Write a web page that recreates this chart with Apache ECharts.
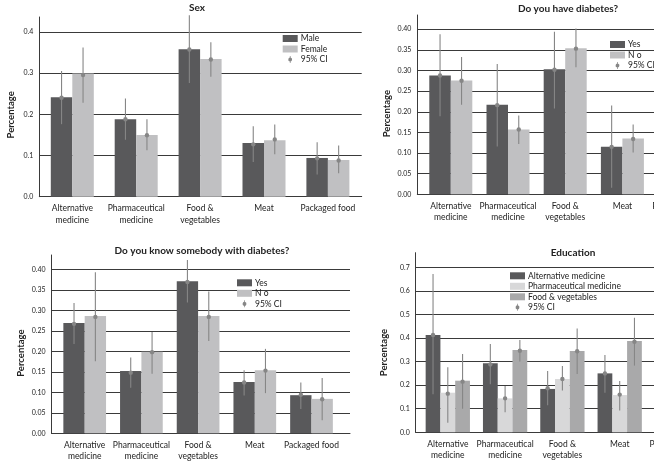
<!DOCTYPE html>
<html><head><meta charset="utf-8">
<script src="https://cdn.jsdelivr.net/npm/echarts@6/dist/echarts.min.js"></script>
<style>html,body{margin:0;padding:0;overflow:hidden;width:654px;height:463px;background:#fff}
#c{position:absolute;left:0;top:0;width:760px;height:463px}</style>
</head><body><div id="c"></div>
<script>
// ---------- data ----------
const categories = ['Alternative\nmedicine', 'Pharmaceutical\nmedicine', 'Food &\nvegetables', 'Meat', 'Packaged food'];

// Panel 1: Sex
const sexMale      = [0.241, 0.188, 0.358, 0.130, 0.094];
const sexFemale    = [0.299, 0.150, 0.334, 0.137, 0.089];
const sexMalePt    = [0.240, 0.188, 0.357, 0.127, 0.093];
const sexMaleLo    = [0.176, 0.138, 0.276, 0.084, 0.054];
const sexMaleHi    = [0.305, 0.238, 0.440, 0.171, 0.132];
const sexFemalePt  = [0.295, 0.149, 0.333, 0.139, 0.088];
const sexFemaleLo  = [0.228, 0.113, 0.291, 0.103, 0.057];
const sexFemaleHi  = [0.362, 0.188, 0.375, 0.175, 0.124];

// Panel 2: Do you have diabetes? (5th category outside the picture)
const diabYes     = [0.288, 0.217, 0.303, 0.115, null];
const diabNo      = [0.276, 0.157, 0.354, 0.135, null];
const diabYesPt   = [0.288, 0.216, 0.302, 0.115, null];
const diabYesLo   = [0.189, 0.116, 0.208, 0.016, null];
const diabYesHi   = [0.388, 0.316, 0.394, 0.215, null];
const diabNoPt    = [0.275, 0.157, 0.353, 0.134, null];
const diabNoLo    = [0.217, 0.122, 0.308, 0.101, null];
const diabNoHi    = [0.333, 0.191, 0.402, 0.169, null];

// Panel 3: Do you know somebody with diabetes?
const knowYes     = [0.269, 0.152, 0.371, 0.125, 0.093];
const knowNo      = [0.286, 0.199, 0.286, 0.154, 0.084];
const knowYesPt   = [0.267, 0.148, 0.369, 0.124, 0.094];
const knowYesLo   = [0.218, 0.111, 0.319, 0.092, 0.059];
const knowYesHi   = [0.318, 0.185, 0.423, 0.154, 0.124];
const knowNoPt    = [0.284, 0.198, 0.284, 0.153, 0.083];
const knowNoLo    = [0.176, 0.145, 0.225, 0.098, 0.032];
const knowNoHi    = [0.393, 0.247, 0.346, 0.206, 0.135];

// Panel 4: Education (5th category outside the picture)
const eduAlt      = [0.413, 0.293, 0.184, 0.250, null];
const eduPharm    = [0.168, 0.144, 0.226, 0.158, null];
const eduFood     = [0.219, 0.349, 0.345, 0.387, null];
const eduAltPt    = [0.413, 0.288, 0.187, 0.250, null];
const eduAltLo    = [0.161, 0.204, 0.115, 0.168, null];
const eduAltHi    = [0.672, 0.375, 0.260, 0.328, null];
const eduPharmPt  = [0.164, 0.144, 0.226, 0.160, null];
const eduPharmLo  = [0.041, 0.085, 0.177, 0.092, null];
const eduPharmHi  = [0.276, 0.196, 0.281, 0.218, null];
const eduFoodPt   = [0.215, 0.346, 0.344, 0.384, null];
const eduFoodLo   = [0.100, 0.300, 0.247, 0.283, null];
const eduFoodHi   = [0.332, 0.392, 0.440, 0.486, null];

// ---------- style ----------
const FONT = 'Lato, "DejaVu Sans", sans-serif';
const DARK = '#59595b', LIGHT = '#c0c0c2', LIGHTEST = '#d8d8d9', MID = '#a9a9aa';
const CI = '#868686', GRID = '#3a3a3a', TXT = '#222';
const CI_ICON = 'path://M2.1,0 L2.9,0 L2.9,1.6 A2.5,2.5 0 0 1 2.9,6.4 L2.9,8 L2.1,8 L2.1,6.4 A2.5,2.5 0 0 1 2.1,1.6 Z';

function makeCI(n, gap) {
  return function (params, api) {
    const cat = api.value(0), idx = api.value(1);
    const band = api.size([1, 0], [cat, 0])[0];
    const bw = band * (1 - gap) / n;
    const off = (idx - (n - 1) / 2) * bw;
    const p = api.coord([cat, api.value(2)]);
    const lo = api.coord([cat, api.value(3)]);
    const hi = api.coord([cat, api.value(4)]);
    const x = p[0] + off;
    return { type: 'group', children: [
      { type: 'line', shape: { x1: x, y1: lo[1], x2: x, y2: hi[1] }, style: { stroke: CI, lineWidth: 1.1 } },
      { type: 'circle', shape: { cx: x, cy: p[1], r: 2.2 }, style: { fill: CI } }
    ]};
  };
}

const option = { animation: false, textStyle: { fontFamily: FONT }, title: [], legend: [], grid: [], xAxis: [], yAxis: [], series: [] };

function addPanel(p) {
  const g = option.grid.length, xa = option.xAxis.length, ya = option.yAxis.length;
  option.grid.push({ left: p.axisX, top: p.top, width: p.gridRight - p.axisX, height: p.base - p.top });
  option.grid.push({ left: p.bandStart, top: p.top, width: p.bandW * 5, height: p.base - p.top });
  option.xAxis.push({ gridIndex: g, type: 'value', min: 0, max: 1,
    axisLine: { show: true, onZero: false, lineStyle: { color: GRID, width: 1 } },
    axisTick: { show: false }, axisLabel: { show: false }, splitLine: { show: false } });
  option.xAxis.push({ gridIndex: g + 1, type: 'category', data: categories,
    axisLine: { show: false }, axisTick: { show: false },
    axisLabel: { interval: 0, margin: 6, fontSize: 8.5, lineHeight: 11.5, color: TXT, fontFamily: FONT } });
  option.yAxis.push({ gridIndex: g, type: 'value', min: 0, max: p.max, interval: p.interval,
    name: 'Percentage', nameLocation: 'middle', nameGap: p.nameGap,
    nameTextStyle: { fontSize: 9.5, fontWeight: 'bold', color: TXT, fontFamily: FONT, padding: [0, p.nameShift, 0, 0] },
    axisLine: { show: true, lineStyle: { color: GRID, width: 1 } }, axisTick: { show: false },
    axisLabel: { formatter: v => v.toFixed(p.dec), showMaxLabel: false, margin: 6, fontSize: 7, color: TXT, fontFamily: FONT },
    splitLine: { show: true, showMaxLine: false, lineStyle: { color: GRID, width: 1 } } });
  option.yAxis.push({ gridIndex: g + 1, type: 'value', min: 0, max: p.max, show: false });

  const n = p.series.length;
  const ciData = [];
  p.series.forEach((s, i) => {
    option.series.push({ type: 'bar', name: s.name, xAxisIndex: xa + 1, yAxisIndex: ya + 1, data: s.values,
      barGap: '0%', barCategoryGap: (p.catGap * 100) + '%', itemStyle: { color: s.color }, silent: true });
    s.pt.forEach((v, c) => { if (v != null) ciData.push([c, i, v, s.lo[c], s.hi[c]]); });
  });
  option.series.push({ type: 'custom', name: '95% CI', xAxisIndex: xa + 1, yAxisIndex: ya + 1, data: ciData,
    encode: { x: 0, y: 2 }, renderItem: makeCI(n, p.catGap), itemStyle: { color: CI }, silent: true, z: 5 });

  option.title.push({ text: p.title, left: p.titleX, top: p.titleY, textAlign: 'center', padding: 0,
    textStyle: { fontSize: 10, fontWeight: 'bold', color: TXT, fontFamily: FONT } });
  option.legend.push({ left: p.legLeft, top: p.legTop, orient: 'vertical', padding: 0, itemWidth: 15, itemHeight: 7,
    itemGap: 1.5, selectedMode: false,
    textStyle: { fontSize: 8.5, lineHeight: 9, color: TXT, fontFamily: FONT, padding: [0, 0, 0, -2] },
    data: p.series.map(s => ({ name: s.name, icon: 'rect' })).concat([{ name: '95% CI', icon: CI_ICON }]) });
}

addPanel({ title: 'Sex', titleX: 197, titleY: 3,
  axisX: 39.3, gridRight: 361.7, bandStart: 40.35, bandW: 63.9, top: 17, base: 196.7, max: 0.436, interval: 0.1, dec: 1,
  catGap: 0.327, nameGap: 23, nameShift: 16, legLeft: 282.7, legTop: 34,
  series: [
    { name: 'Male', color: DARK, values: sexMale, pt: sexMalePt, lo: sexMaleLo, hi: sexMaleHi },
    { name: 'Female', color: LIGHT, values: sexFemale, pt: sexFemalePt, lo: sexFemaleLo, hi: sexFemaleHi }
  ] });

addPanel({ title: 'Do you have diabetes?', titleX: 568, titleY: 4,
  axisX: 417.3, gridRight: 711, bandStart: 422.2, bandW: 57.2, top: 15, base: 194.3, max: 0.4345, interval: 0.05, dec: 2,
  catGap: 0.248, nameGap: 25, nameShift: 18, legLeft: 610, legTop: 40,
  series: [
    { name: 'Yes', color: DARK, values: diabYes, pt: diabYesPt, lo: diabYesLo, hi: diabYesHi },
    { name: 'N o', color: LIGHT, values: diabNo, pt: diabNoPt, lo: diabNoLo, hi: diabNoHi }
  ] });

addPanel({ title: 'Do you know somebody with diabetes?', titleX: 202, titleY: 246,
  axisX: 51.5, gridRight: 350, bandStart: 56.35, bandW: 56.7, top: 255, base: 433.3, max: 0.435, interval: 0.05, dec: 2,
  catGap: 0.247, nameGap: 26, nameShift: 18, legLeft: 237, legTop: 278.3,
  series: [
    { name: 'Yes', color: DARK, values: knowYes, pt: knowYesPt, lo: knowYesLo, hi: knowYesHi },
    { name: 'N o', color: LIGHT, values: knowNo, pt: knowNoPt, lo: knowNoLo, hi: knowNoHi }
  ] });

addPanel({ title: 'Education', titleX: 573, titleY: 248,
  axisX: 415.7, gridRight: 708.6, bandStart: 419.15, bandW: 57.3, top: 252.7, base: 432.3, max: 0.762, interval: 0.1, dec: 1,
  catGap: 0.227, nameGap: 27, nameShift: 20, legLeft: 510, legTop: 271.3,
  series: [
    { name: 'Alternative medicine', color: DARK, values: eduAlt, pt: eduAltPt, lo: eduAltLo, hi: eduAltHi },
    { name: 'Pharmaceutical medicine', color: LIGHTEST, values: eduPharm, pt: eduPharmPt, lo: eduPharmLo, hi: eduPharmHi },
    { name: 'Food & vegetables', color: MID, values: eduFood, pt: eduFoodPt, lo: eduFoodLo, hi: eduFoodHi }
  ] });

const chart = echarts.init(document.getElementById('c'), null, { renderer: 'canvas' });
chart.setOption(option);
</script></body></html>
